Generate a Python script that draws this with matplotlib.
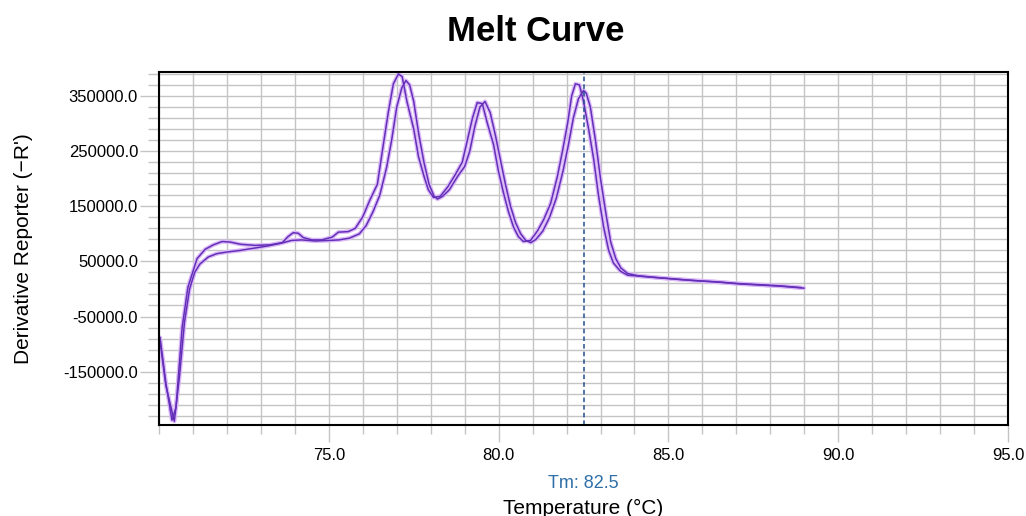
import numpy as np
import matplotlib
matplotlib.use('Agg')
import matplotlib.pyplot as plt
from matplotlib.ticker import MultipleLocator, FixedLocator, FormatStrFormatter
import matplotlib.transforms as mtransforms

plt.rcParams['font.family'] = ['Liberation Sans', 'DejaVu Sans']

# Melt curve data (temperature in deg C, derivative reporter)
##############################################################################

temp_a = [70.03, 70.2, 70.38, 70.5, 70.68, 70.85, 71.12, 71.36, 71.6, 71.86,
          72.1, 72.4, 72.83, 73.27, 73.63, 73.8, 73.95, 74.1, 74.25, 74.5,
          74.8, 75.1, 75.28, 75.57, 75.78, 76.0, 76.2, 76.43, 76.6, 76.75,
          76.9, 77.05, 77.16, 77.3, 77.5, 77.64, 77.8, 77.93, 78.08, 78.28,
          78.5, 78.73, 78.93, 79.08, 79.23, 79.37, 79.52, 79.67, 79.85, 79.99,
          80.14, 80.29, 80.44, 80.58, 80.73, 80.94, 81.14, 81.32, 81.53, 81.73,
          81.88, 82.03, 82.15, 82.26, 82.38, 82.5, 82.65, 82.8, 82.94, 83.09,
          83.24, 83.38, 83.59, 83.8, 84.18, 84.77, 85.36, 85.95, 86.54, 87.13,
          87.72, 88.3, 88.99]
deriv_a = [-88000, -170000, -238000, -215000, -70000, 3000, 55000, 72000, 80000, 86000,
           85000, 81000, 79000, 80000, 84000, 95000, 102000, 101000, 93000, 89000,
           89000, 94000, 103000, 104000, 110000, 131000, 160000, 190000, 260000, 320000,
           372000, 390000, 385000, 340000, 290000, 240000, 205000, 180000, 166000, 168000,
           185000, 208000, 230000, 270000, 310000, 338000, 336000, 300000, 262000, 215000,
           175000, 140000, 112000, 95000, 86000, 88000, 105000, 125000, 155000, 204000,
           250000, 300000, 350000, 372000, 370000, 340000, 290000, 235000, 170000, 113000,
           70000, 47000, 32000, 25000, 23000, 20000, 17000, 14500, 12000, 9000,
           7000, 5000, 1500]

temp_b = [70.03, 70.2, 70.45, 70.6, 70.75, 70.9, 71.05, 71.2, 71.45, 71.7,
          72.0, 72.4, 72.8, 73.2, 73.6, 73.9, 74.2, 74.6, 75.0, 75.3,
          75.6, 75.9, 76.1, 76.3, 76.5, 76.7, 76.85, 77.0, 77.15, 77.27,
          77.38, 77.5, 77.65, 77.8, 77.95, 78.1, 78.2, 78.35, 78.55, 78.8,
          79.0, 79.15, 79.3, 79.45, 79.6, 79.75, 79.9, 80.05, 80.2, 80.35,
          80.5, 80.65, 80.8, 80.95, 81.1, 81.3, 81.5, 81.7, 81.9, 82.05,
          82.2, 82.35, 82.5, 82.58, 82.7, 82.85, 83.0, 83.15, 83.3, 83.45,
          83.6, 83.8, 84.1, 84.6, 85.2, 85.8, 86.4, 87.0, 87.6, 88.2,
          88.9]
deriv_b = [-95000, -175000, -240000, -160000, -60000, 0, 30000, 45000, 58000, 64000,
           67000, 70000, 74000, 78000, 83000, 88000, 89000, 87000, 88000, 89000,
           92000, 100000, 115000, 140000, 170000, 220000, 270000, 330000, 365000, 378000,
           370000, 340000, 280000, 230000, 190000, 168000, 163000, 168000, 180000, 205000,
           222000, 250000, 295000, 330000, 340000, 320000, 280000, 235000, 190000, 150000,
           120000, 100000, 88000, 84000, 90000, 105000, 130000, 165000, 215000, 260000,
           310000, 345000, 360000, 355000, 330000, 270000, 200000, 140000, 85000, 55000,
           38000, 28000, 24000, 21000, 18000, 15000, 13000, 10000, 8000, 6000,
           2500]

tm_value = 82.5
x_major = [75.0, 80.0, 85.0, 90.0, 95.0]
y_major = [-150000, -50000, 50000, 150000, 250000, 350000]

# Figure
##############################################################################

fig = plt.figure(figsize=(10.26, 5.16), dpi=100)
ax = fig.add_axes([0.155, 0.1764, 0.8275, 0.6841])

grid_col = '#c4c4c4'

# halo + core for each trace
for t, d in [(temp_a, deriv_a), (temp_b, deriv_b)]:
    ax.plot(t, d, color='#dcb8f7', lw=3.0, solid_capstyle='round', zorder=3)
    ax.plot(t, d, color='#6230b8', lw=1.1, zorder=4)

# Tm marker line
ax.axvline(tm_value, color='#1f4f8f', lw=1.1, ls=(0, (3, 2)), zorder=5)

ax.set_xlim(70, 95)
ax.set_ylim(-246700, 393500)

# ticks and grid
ax.xaxis.set_major_locator(FixedLocator(x_major))
ax.xaxis.set_minor_locator(MultipleLocator(1.0))
ax.yaxis.set_major_locator(FixedLocator(y_major))
ax.yaxis.set_minor_locator(FixedLocator(np.arange(-230000, 400000, 20000)))
ax.xaxis.set_major_formatter(FormatStrFormatter('%.1f'))
ax.yaxis.set_major_formatter(FormatStrFormatter('%.1f'))

ax.grid(which='both', color=grid_col, lw=1.0, zorder=0)
ax.set_axisbelow(True)

# tick lengths in points (px * 0.72)
ax.tick_params(axis='x', which='major', direction='out', length=12.2, width=1,
               color=grid_col, labelsize=12, pad=4.3)
ax.tick_params(axis='x', which='minor', direction='out', length=6.5, width=1,
               color=grid_col)
ax.tick_params(axis='y', which='major', direction='out', length=13.7, width=1,
               color=grid_col, labelsize=12, pad=1.4)
ax.tick_params(axis='y', which='minor', direction='out', length=8, width=1,
               color=grid_col)

for s in ax.spines.values():
    s.set_color('black')
    s.set_linewidth(1.5)
    s.set_zorder(6)

# labels
ax.set_xlabel('Temperature (°C)', fontsize=15)
ax.xaxis.label.set_va('baseline')
ax.xaxis.set_label_coords(0.5, -0.252)

ax.set_ylabel("Derivative Reporter (\u2212R')", fontsize=15)
ax.yaxis.set_label_coords(-0.148, 0.5)

trans = mtransforms.blended_transform_factory(ax.transData, fig.transFigure)
ax.text(tm_value, 0.054, 'Tm: 82.5', transform=trans, ha='center', va='baseline',
        fontsize=13, color='#2f6fa8')

fig.text(0.522, 0.921, 'Melt Curve', ha='center', va='baseline',
         fontsize=25, fontweight='bold')

fig.savefig('out.png', dpi=100)
